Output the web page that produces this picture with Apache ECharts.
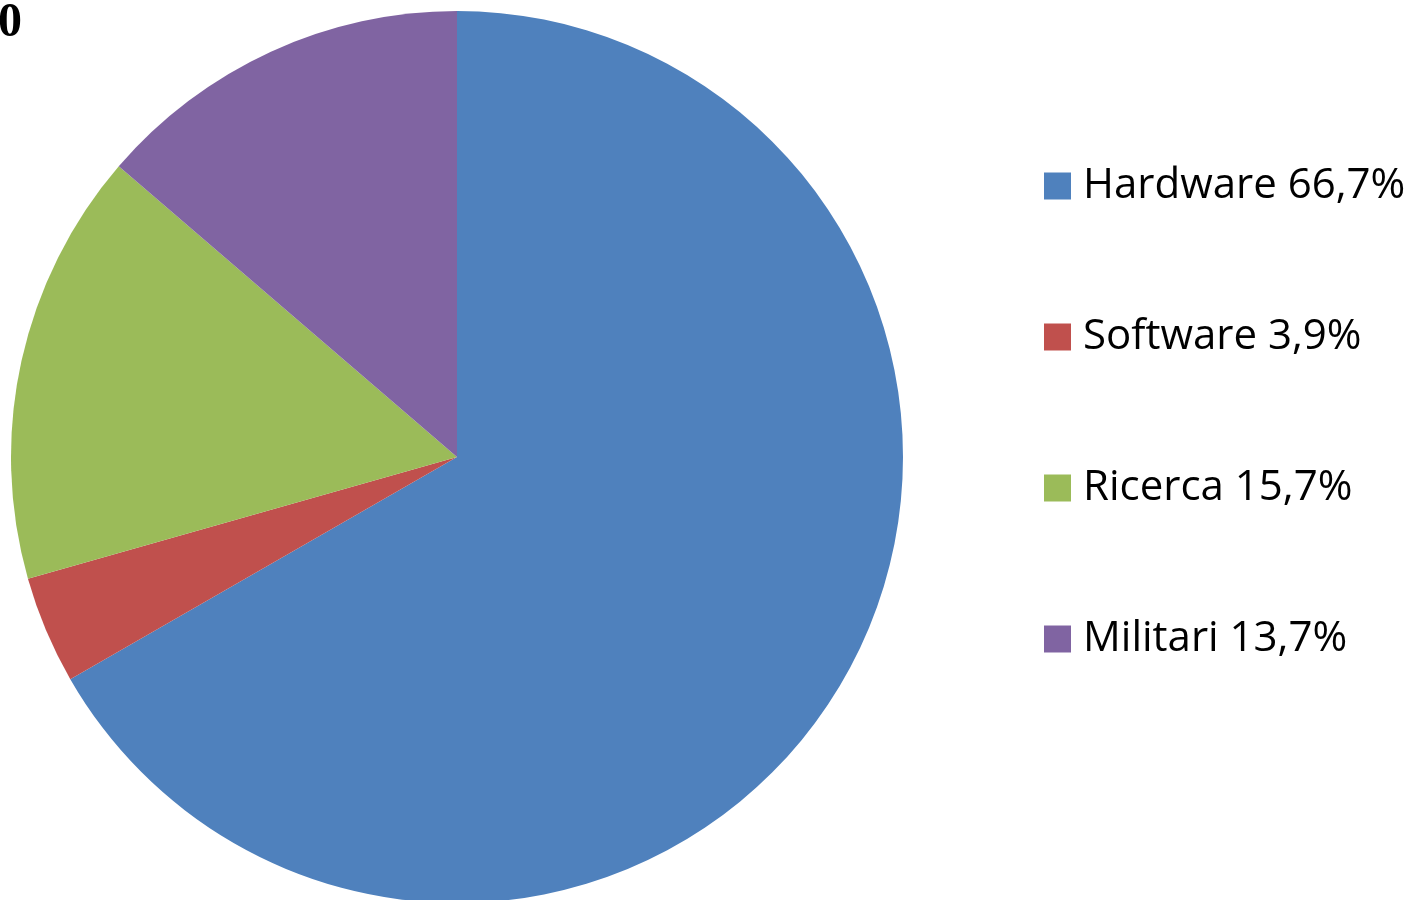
<!DOCTYPE html>
<html>
<head>
<meta charset="utf-8">
<title>Ripartizione</title>
<script src="https://cdn.jsdelivr.net/npm/echarts@6/dist/echarts.min.js"></script>
<style>
  html, body { margin: 0; padding: 0; background: #ffffff; }
  #chart { width: 1412px; height: 900px; }
</style>
</head>
<body>
<div id="chart"></div>
<script>
// Spending shares, in percent
const categories = ['Hardware', 'Software', 'Ricerca', 'Militari'];
const shares = [66.7, 3.9, 15.7, 13.7];
const colors = ['#4F81BD', '#C0504D', '#9BBB59', '#8064A2'];

const fmt = v => v.toFixed(1).replace('.', ',') + '%';

const chart = echarts.init(document.getElementById('chart'), null, { renderer: 'canvas' });

chart.setOption({
  animation: false,
  backgroundColor: '#ffffff',
  color: colors,
  title: {
    text: '0',
    left: -2,
    top: 0,
    padding: 0,
    textStyle: {
      fontFamily: 'Liberation Serif',
      fontWeight: 'bold',
      fontSize: 48,
      color: '#000000'
    }
  },
  legend: {
    orient: 'vertical',
    left: 1044,
    top: 165,
    padding: 0,
    itemWidth: 27,
    itemHeight: 27,
    itemGap: 109,
    icon: 'rect',
    data: categories,
    formatter: name => name + ' ' + fmt(shares[categories.indexOf(name)]),
    textStyle: {
      fontFamily: 'Open Sans',
      fontSize: 42,
      lineHeight: 40,
      color: '#000000',
      padding: [0, 0, 0, 7]
    },
    selectedMode: false
  },
  series: [{
    type: 'pie',
    center: [457, 457],
    radius: 446,
    startAngle: 90,
    clockwise: true,
    label: { show: false },
    labelLine: { show: false },
    emphasis: { disabled: true },
    itemStyle: { borderWidth: 0 },
    data: categories.map((c, i) => ({ name: c, value: shares[i] }))
  }]
});
</script>
</body>
</html>
